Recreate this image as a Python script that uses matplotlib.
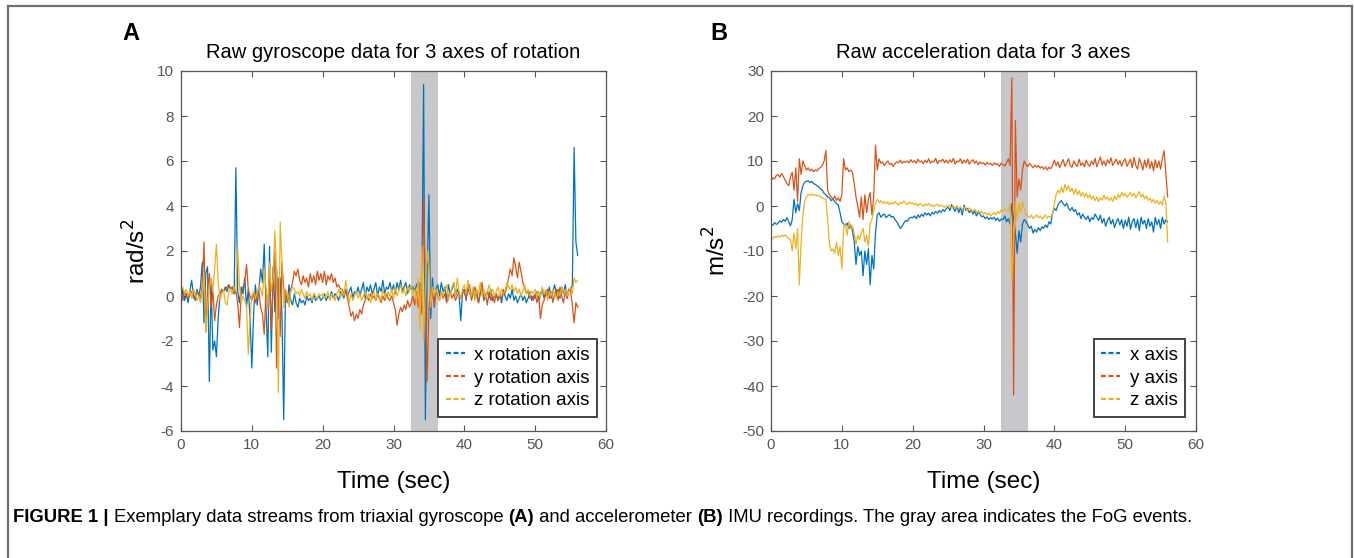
import numpy as np
import matplotlib
matplotlib.use("Agg")
import matplotlib.pyplot as plt
from matplotlib.lines import Line2D
from matplotlib import font_manager

# sample times (sec), one value every 0.25 s
time_sec = np.arange(225) * 0.25

# gyroscope, rad/s^2
gyro_x = [
    -0.4, 0.3, -0.2, 0.1, -0.3, 0.2, 0.7, 0.1, -0.2, 0.3, 0.0, 0.4, 1.5, -1.2, 1.0, 1.3, -3.8, 0.6, -2.4, -2.0,
    -2.7, -1.0, 0.1, 0.3, 0.2, 0.4, 0.2, 0.5, 0.3, 0.4, 0.1, 5.7, 0.2, -0.3, 0.4, 0.1, 0.8, -0.5, 0.3, -1.0,
    -3.2, -0.8, 0.5, -0.4, 0.3, 1.2, 0.6, 2.3, -0.5, -2.7, 2.2, -2.5, 1.3, -0.7, 1.2, -1.0, 0.8, -0.8, -5.5, 0.2,
    -0.3, 0.5, -0.2, -0.4, 0.1, -0.3, -0.5, -0.1, -0.3, -0.2, -0.4, 0.0, -0.2, -0.1, -0.3, 0.1, -0.2, -0.1, 0.0, -0.2,
    -0.1, 0.1, -0.2, 0.0, -0.1, 0.2, -0.1, 0.1, 0.0, -0.2, 0.2, 0.1, -0.1, 0.3, 0.0, 0.2, 0.4, -0.1, 0.2, 0.1,
    0.4, 0.0, 0.3, 0.6, -0.1, 0.4, 0.2, 0.5, 0.1, 0.3, 0.6, 0.0, 0.4, 0.2, 0.7, 0.1, 0.4, 0.3, 0.6, 0.2,
    0.5, 0.1, 0.6, 0.3, 0.7, 0.2, 0.4, 0.6, 0.1, 0.5, 0.3, 0.4, 0.2, 0.5, 0.6, 0.1, 0.3, 9.4, -5.5, 1.0,
    4.5, -1.0, 0.8, -0.5, 0.3, 0.5, 0.0, 0.6, 0.2, 0.4, -0.2, 0.5, 0.1, 0.3, 0.6, 0.0, 0.3, 0.1, -1.1, 0.2,
    0.3, -0.2, 0.4, 0.1, 0.0, 0.3, -0.1, 0.2, -0.3, 0.1, 0.4, -0.2, 0.0, 0.2, -0.1, 0.3, -0.2, 0.0, 0.1, -0.2,
    0.1, -0.3, 0.2, 0.0, -0.2, 0.1, -0.1, 0.3, -0.2, 0.0, -0.3, -0.1, 0.1, -0.2, 0.0, -0.3, -0.1, 0.2, -0.2, 0.0,
    -0.1, 0.2, -0.2, 0.1, 0.3, -0.1, 0.2, 0.0, 0.4, -0.1, 0.2, 0.5, 0.0, 0.3, -0.1, 0.4, 0.1, 0.5, -0.1, 0.3,
    0.2, 0.5, 6.6, 2.4, 1.8,
]
gyro_y = [
    0.1, -0.2, 0.2, 0.0, -0.1, 0.1, 0.2, -0.1, 0.0, 0.2, 0.1, -0.1, 0.5, 2.4, -1.6, 0.3, 1.0, -0.5, 0.2, -1.1,
    -0.4, 0.0, 0.1, 0.2, 0.2, 0.3, 0.4, 0.5, 0.3, 0.4, 0.1, 0.2, -0.3, -1.4, 0.1, 0.4, 0.6, 1.4, 0.3, 0.0,
    -0.2, 0.1, -0.3, 0.0, 0.2, -0.5, -0.8, -1.7, 0.3, -0.4, 1.0, -1.5, 0.5, 2.0, -3.2, 0.8, -1.8, 1.5, 0.4, -0.2,
    0.0, -0.2, 0.3, 0.6, 1.1, 0.9, 1.2, 0.7, 0.5, 0.9, 0.6, 0.8, 0.4, 1.0, 0.6, 0.9, 0.5, 1.1, 0.7, 1.0,
    0.6, 1.1, 0.5, 0.9, 0.7, 1.0, 0.6, 0.8, 0.4, 0.5, 0.3, 0.3, 0.1, 0.2, -0.1, -0.5, -0.9, -0.7, -1.1, -0.8,
    -1.0, -0.6, -0.8, -0.4, -0.2, 0.0, -0.2, 0.1, -0.1, 0.0, -0.2, 0.1, -0.1, -0.3, 0.0, -0.2, 0.1, -0.1, -0.2, 0.0,
    -0.3, -0.6, -1.3, -0.8, -0.5, -0.7, -0.4, -0.6, -0.2, -0.5, -0.3, 0.0, -0.4, 0.2, -0.5, 0.6, -0.8, 4.4, 0.5, -3.8,
    -0.6, 0.3, 0.2, -0.4, 0.3, 0.0, -0.2, 0.2, -0.1, 0.1, -0.3, 0.0, 0.2, -0.1, 0.1, -0.2, 0.0, 0.2, -0.1, 0.1,
    0.2, -0.1, 0.3, 0.5, -0.2, 0.1, 0.4, 0.0, -0.3, 0.2, 0.6, -0.1, 0.1, -0.4, 0.2, -0.2, 0.0, -0.3, 0.1, -0.2,
    0.0, -0.1, 0.3, 0.1, 0.4, 0.8, 1.2, 0.9, 1.7, 1.3, 0.8, 1.5, 1.1, 0.6, 0.4, 0.1, 0.2, -0.1, 0.0, -0.2,
    0.1, -0.3, 0.0, -1.0, -0.4, -0.2, 0.1, 0.3, -0.1, 0.2, -0.3, 0.1, 0.3, -0.2, 0.4, 0.0, -0.3, 0.2, -0.1, 0.3,
    0.2, -0.4, -1.2, -0.3, -0.5,
]
gyro_z = [
    0.2, 0.4, 0.1, 0.3, 0.0, 0.2, -0.1, 0.3, 0.1, -0.2, 0.0, -0.3, 0.2, 1.0, -1.6, -0.5, 0.4, 0.8, 0.2, 1.2,
    2.3, 0.6, -0.2, 0.1, 0.3, -0.3, -0.4, 0.2, 0.3, 0.1, 0.4, 0.2, 2.2, 0.5, -0.3, 0.0, -0.2, -0.4, -2.6, -1.0,
    0.0, 0.2, -0.1, 0.1, 0.5, 0.3, 0.0, 1.2, 0.4, -0.6, 1.5, 0.2, 0.8, 2.9, 1.0, -4.3, 3.3, 1.5, -0.5, 0.3,
    0.1, -0.5, 0.2, 0.4, 0.3, 0.1, 0.2, 0.0, 0.3, 0.1, -0.1, 0.2, 0.0, 0.1, -0.2, 0.1, 0.0, -0.1, 0.1, 0.0,
    0.1, -0.1, 0.0, 0.2, -0.2, 0.1, 0.0, -0.2, 0.1, 0.3, -0.1, 0.2, 0.0, 0.7, 0.2, -0.3, 0.1, -0.2, 0.0, 0.2,
    -0.1, 0.1, -0.2, 0.0, 0.2, -0.1, 0.1, -0.3, 0.0, 0.2, -0.2, 0.1, 0.0, -0.2, 0.3, 0.0, -0.1, 0.2, 0.0, 0.3,
    -0.1, 0.4, 0.0, 0.2, 0.5, 0.1, 0.3, 0.0, 0.4, 0.2, 0.5, 0.1, 0.3, -0.3, 0.8, -1.5, 2.2, -2.0, 0.5, 2.0,
    1.2, -0.5, 0.4, 0.0, 0.3, 0.1, -0.2, 0.2, 0.0, 0.3, 0.5, -0.2, 0.1, 0.4, 0.6, 0.0, 0.8, 0.2, -0.1, 0.3,
    0.5, 0.1, 0.7, 0.2, 0.0, 0.4, -0.2, 0.3, 0.1, 0.6, 0.0, 0.3, -0.1, 0.2, 0.5, 0.1, 0.3, 0.0, 0.2, 0.4,
    0.0, 0.3, 0.1, 0.2, 0.6, 0.4, 0.3, 0.5, 0.2, 0.4, 0.1, 0.3, 0.0, 0.2, 0.5, 0.1, 0.3, 0.0, 0.2, 0.1,
    0.3, 0.0, 0.2, -0.1, 0.4, 0.1, 0.3, -0.2, 0.2, 0.0, 0.3, 0.1, -0.1, 0.2, 0.0, 0.4, 0.1, 0.3, 0.0, 0.2,
    0.4, 0.1, 0.8, 0.6, 0.7,
]

# accelerometer, m/s^2
acc_x = [
    -4.0, -4.3, -3.7, -4.1, -3.8, -3.3, -3.6, -3.0, -3.4, -2.6, -3.5, -4.4, -3.0, 1.5, -1.5, 0.5, -1.0, 3.0, 4.5, 5.3,
    5.5, 5.6, 5.2, 5.5, 5.0, 4.8, 4.5, 4.2, 3.8, 3.5, 2.8, 2.5, 2.0, 1.8, 1.2, 1.5, 1.0, 0.5, 0.2, -1.5,
    -3.5, -4.0, -4.5, -3.8, -5.0, -4.2, -5.5, -8.0, -13.0, -9.0, -11.0, -10.0, -15.5, -10.0, -13.0, -9.5, -17.5, -11.0, -14.0, -6.0,
    -2.0, -1.5, -2.5, -2.0, -1.8, -2.6, -2.2, -1.9, -2.5, -2.3, -3.0, -3.5, -4.2, -5.0, -4.5, -3.8, -3.2, -3.4, -2.8, -2.5,
    -2.6, -2.2, -2.8, -2.0, -2.5, -1.8, -2.3, -1.5, -2.0, -1.6, -2.2, -1.4, -1.8, -1.2, -1.6, -1.0, -1.4, -0.8, -1.2, -0.6,
    -0.2, -1.0, 0.3, -0.5, -1.2, 0.0, -1.5, -0.3, -2.0, 0.2, -1.0, -0.5, -1.5, -0.8, -1.8, -1.0, -2.2, -1.4, -1.8, -2.4,
    -2.2, -2.8, -2.4, -3.0, -2.6, -2.9, -2.5, -3.2, -2.7, -3.4, -2.9, -3.0, -2.2, -3.5, -2.8, -4.0, 0.5, -3.0, -6.0, -10.5,
    -5.5, -8.0, -4.0, -3.0, -3.5, -4.2, -5.0, -4.5, -6.0, -5.2, -5.8, -4.8, -5.5, -4.6, -5.0, -4.2, -4.8, -3.5, -4.0, -1.5,
    -0.5, -1.0, 0.2, 0.8, 1.2, 0.5, 0.0, 0.6, -0.5, -1.0, -0.3, -1.2, -0.8, -2.0, -1.5, -2.8, -1.8, -2.5, -3.0, -2.2,
    -3.5, -2.6, -3.0, -1.8, -2.5, -3.2, -2.0, -3.8, -2.8, -4.5, -3.2, -2.5, -4.0, -3.0, -4.8, -3.5, -2.8, -4.2, -3.0, -5.0,
    -3.2, -4.5, -2.5, -5.2, -3.5, -2.8, -4.8, -3.0, -5.5, -2.5, -4.0, -3.2, -5.0, -2.8, -4.5, -3.5, -5.8, -2.5, -4.2, -3.0,
    -5.0, -2.5, -4.0, -3.0, -3.5,
]
acc_y = [
    5.5, 6.3, 6.0, 6.8, 7.0, 6.4, 7.2, 6.5, 5.8, 5.0, 4.5, 6.5, 7.5, 3.5, 8.5, 1.0, 10.5, 7.0, 10.0, 9.0,
    8.0, 8.5, 7.8, 8.2, 7.6, 8.0, 7.8, 8.3, 8.6, 9.0, 10.0, 12.3, 3.5, 2.5, 2.0, 1.5, 2.2, 1.2, 1.8, 1.0,
    2.5, 10.5, 8.0, 8.5, 7.6, 8.0, 7.5, 5.0, 2.0, 0.0, -2.5, 2.0, -3.0, 2.5, -1.5, 1.5, 3.0, -2.0, 2.0, 13.5,
    8.0, 10.5, 9.5, 9.8, 9.0, 9.6, 10.0, 9.2, 9.5, 8.8, 9.4, 9.8, 9.6, 10.2, 9.5, 9.9, 9.7, 10.0, 9.6, 10.3,
    9.7, 10.1, 9.5, 10.4, 9.8, 10.0, 9.4, 10.2, 9.6, 10.5, 9.5, 10.0, 9.8, 10.6, 9.4, 10.1, 9.9, 10.4, 9.6, 10.2,
    9.5, 10.3, 9.7, 10.6, 9.3, 10.0, 9.8, 10.5, 9.4, 10.2, 9.6, 10.4, 9.3, 9.9, 10.3, 9.5, 10.0, 9.2, 9.8, 9.4,
    9.6, 9.1, 9.7, 9.3, 9.5, 9.0, 9.6, 9.2, 9.4, 8.8, 9.5, 9.2, 8.9, 9.6, 10.5, 9.0, 28.5, -42.0, 19.0, 2.0,
    6.0, 3.5, 8.0, 10.0, 9.2, 8.7, 9.5, 9.0, 8.5, 9.1, 8.6, 9.0, 8.4, 8.8, 8.2, 8.7, 8.0, 8.6, 8.3, 9.0,
    10.2, 9.0, 9.8, 8.5, 9.5, 10.3, 8.8, 9.6, 10.5, 9.0, 8.6, 10.0, 9.2, 8.8, 10.4, 9.0, 9.6, 8.7, 10.2, 9.3,
    8.8, 10.0, 9.2, 10.6, 8.7, 9.8, 10.9, 9.1, 10.0, 8.9, 10.3, 9.5, 10.7, 9.0, 9.8, 10.4, 9.2, 10.1, 8.9, 9.9,
    10.5, 8.8, 9.6, 10.4, 8.5, 10.8, 9.0, 8.2, 10.6, 9.4, 8.0, 10.2, 8.6, 10.5, 8.3, 9.9, 7.8, 10.3, 8.5, 10.0,
    8.2, 10.5, 12.3, 7.0, 2.0,
]
acc_z = [
    -7.5, -7.2, -6.8, -7.0, -6.6, -6.9, -6.5, -6.8, -6.4, -6.9, -7.2, -7.5, -10.0, -6.0, -9.5, -5.0, -17.5, -8.0, -2.0, 1.0,
    2.0, 2.6, 2.4, 2.7, 2.3, 2.5, 2.2, 2.4, 2.0, 1.8, 1.6, 1.5, -3.0, -8.5, -10.0, -9.5, -10.5, -8.0, -11.0, -9.0,
    -14.0, -5.0, -4.0, -6.5, -3.5, -5.0, -4.5, -6.0, -8.5, -6.5, -7.5, -6.0, -5.0, -8.0, -6.5, -9.0, -4.0, -3.0, -1.0, 0.5,
    1.5, 0.8, 1.2, 0.6, 1.0, 0.5, 0.9, 0.3, 0.8, 0.4, 1.0, 0.6, 0.2, 0.8, 0.5, 1.1, 0.6, 0.3, 0.9, 0.5,
    0.7, 0.2, 0.6, 0.0, 0.5, 0.3, -0.1, 0.4, 0.1, 0.6, 0.0, 0.3, -0.2, 0.2, 0.4, -0.1, 0.2, 0.0, -0.3, 0.1,
    -0.2, 0.2, -0.4, 0.0, -0.5, -0.1, -0.6, -0.2, -0.8, -0.3, -0.5, -1.0, -0.4, -0.9, -1.2, -0.7, -1.4, -1.0, -1.6, -1.2,
    -1.8, -1.4, -2.0, -1.6, -2.2, -1.8, -1.5, -2.0, -1.2, -1.6, -0.8, -1.2, -0.5, -1.0, -1.0, 0.5, -16.5, -8.0, 1.0, -3.0,
    0.5, -1.5, 1.0, -0.5, -1.8, -2.2, -2.6, -2.0, -2.8, -2.4, -2.0, -2.6, -2.2, -2.9, -2.4, -2.0, -2.7, -2.3, -2.5, -1.8,
    0.5, 2.5, 3.5, 2.8, 4.2, 3.0, 4.8, 3.5, 4.5, 3.2, 4.0, 2.6, 3.8, 2.5, 3.4, 2.2, 3.0, 2.0, 2.8, 1.8,
    2.5, 1.5, 2.2, 1.2, 2.0, 1.0, 1.8, 1.3, 2.4, 1.5, 2.0, 1.2, 1.8, 1.0, 2.2, 1.4, 2.6, 1.8, 3.0, 2.2,
    2.8, 1.9, 2.5, 3.0, 2.2, 2.8, 1.8, 2.5, 3.2, 2.0, 2.6, 1.6, 2.2, 1.2, 1.8, 0.8, 1.5, 0.6, 1.2, 0.4,
    1.0, 0.2, 2.2, 0.5, -8.0,
]

fog_start, fog_end = 32.5, 36.3
gyro_labels = ["x rotation axis", "y rotation axis", "z rotation axis"]
acc_labels = ["x axis", "y axis", "z axis"]

COLORS = ["#0072BD", "#D95319", "#EDB120"]
TICK_GRAY = "#555555"

names = {f.name for f in font_manager.fontManager.ttflist}
BASE = "Liberation Sans" if "Liberation Sans" in names else "DejaVu Sans"
plt.rcParams["font.family"] = [BASE, "DejaVu Sans"]
plt.rcParams["axes.unicode_minus"] = False

W, H = 1354, 558
fig = plt.figure(figsize=(W / 100, H / 100), dpi=100)


def px_axes(left, top, right, bottom):
    return fig.add_axes([left / W, 1 - bottom / H, (right - left) / W, (bottom - top) / H])


def style_panel(ax, ylim, yticks, title, ylabel, series, labels, legend_right, ylabelpad):
    ax.axvspan(fog_start, fog_end, color="#c8c8cc", lw=0, zorder=0)
    for vals, col, lab in zip(series, COLORS, labels):
        ax.plot(time_sec, vals, color=col, lw=0.9, label=lab, zorder=2)
    ax.set_xlim(0, 60)
    ax.set_ylim(*ylim)
    ax.set_xticks(np.arange(0, 61, 10))
    ax.set_yticks(yticks)
    ax.tick_params(direction="in", length=4, width=0.8, colors=TICK_GRAY,
                   labelsize=11, top=True, right=True, pad=5)
    for sp in ax.spines.values():
        sp.set_color("#555555")
        sp.set_linewidth(0.9)
    ax.set_title(title, fontsize=14.5, pad=9)
    ax.set_xlabel("Time (sec)", fontsize=17.5, labelpad=14)
    ax.set_ylabel(ylabel, fontsize=17.5, labelpad=ylabelpad)
    handles = [Line2D([], [], color=c, lw=1.6, ls=(0, (2.2, 1.2))) for c in COLORS]
    leg = ax.legend(handles, labels, loc="lower right", bbox_to_anchor=(legend_right, 0.039),
                    borderaxespad=0, fontsize=13.5, handlelength=1.0, handletextpad=0.5,
                    borderpad=0.4, labelspacing=0.3, fancybox=False, framealpha=1)
    leg.get_frame().set_edgecolor("#444444")
    leg.get_frame().set_linewidth(1.4)


axA = px_axes(181, 71, 606, 431)
style_panel(axA, (-6, 10), np.arange(-6, 11, 2), "Raw gyroscope data for 3 axes of rotation",
            "rad/s$^2$", [gyro_x, gyro_y, gyro_z], gyro_labels, 0.979, 5)
axB = px_axes(771, 71, 1196, 431)
style_panel(axB, (-50, 30), np.arange(-50, 31, 10), "Raw acceleration data for 3 axes",
            "m/s$^2$", [acc_x, acc_y, acc_z], acc_labels, 0.974, 8)

fig.text(122 / W, 1 - 33 / H, "A", fontsize=17, fontweight="bold", va="center")
fig.text(710 / W, 1 - 33 / H, "B", fontsize=17, fontweight="bold", va="center")

# outer frame
frame_kw = dict(color="#6e6e6e", lw=1.6, transform=fig.transFigure)
fig.add_artist(Line2D([8 / W, 1352 / W], [1 - 6 / H, 1 - 6 / H], **frame_kw))
fig.add_artist(Line2D([8 / W, 8 / W], [1 - 6 / H, 0], **frame_kw))
fig.add_artist(Line2D([1352 / W, 1352 / W], [1 - 6 / H, 0], **frame_kw))

# caption, built from bold and regular pieces
caption = [
    ("FIGURE 1 | ", "bold"),
    ("Exemplary data streams from triaxial gyroscope ", "normal"),
    ("(A)", "bold"),
    (" and accelerometer ", "normal"),
    ("(B)", "bold"),
    (" IMU recordings. The gray area indicates the FoG events.", "normal"),
]
fig.canvas.draw()
renderer = fig.canvas.get_renderer()
x = 13
for piece, weight in caption:
    t = fig.text(x / W, 1 - 522 / H, piece, fontsize=13.3, fontweight=weight,
                 va="baseline", ha="left")
    x += t.get_window_extent(renderer).width

fig.savefig("out.png", dpi=100)
